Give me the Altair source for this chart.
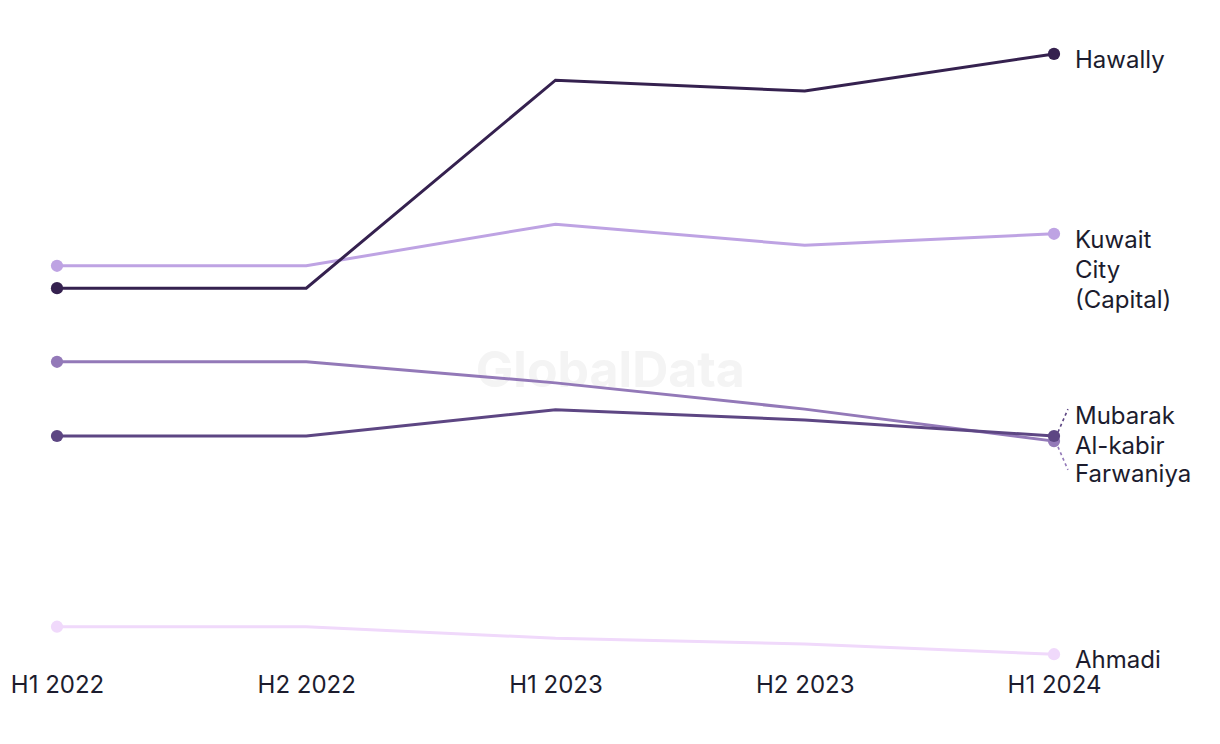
import altair as alt
import pandas as pd

periods = ["H1 2022", "H2 2022", "H1 2023", "H2 2023", "H1 2024"]
series = ["Ahmadi", "Kuwait City (Capital)", "Farwaniya", "Mubarak Al-kabir", "Hawally"]
values = {
    "Hawally": [58.1, 58.1, 90.6, 88.9, 94.7],
    "Kuwait City (Capital)": [61.6, 61.6, 68.1, 64.8, 66.6],
    "Farwaniya": [46.6, 46.6, 43.3, 39.2, 34.2],
    "Mubarak Al-kabir": [35.0, 35.0, 39.1, 37.5, 35.0],
    "Ahmadi": [5.2, 5.2, 3.4, 2.5, 0.9],
}
colors = {
    "Hawally": "#35214f",
    "Kuwait City (Capital)": "#bea3e3",
    "Farwaniya": "#9379b8",
    "Mubarak Al-kabir": "#5d4683",
    "Ahmadi": "#f0d9fb",
}
labels = {
    "Hawally": "Hawally",
    "Kuwait City (Capital)": "Kuwait\nCity\n(Capital)",
    "Farwaniya": "Farwaniya",
    "Mubarak Al-kabir": "Mubarak\nAl-kabir",
    "Ahmadi": "Ahmadi",
}
label_dy = {
    "Hawally": -5,
    "Kuwait City (Capital)": -5,
    "Farwaniya": 22,
    "Mubarak Al-kabir": -31,
    "Ahmadi": -5,
}
# leader lines (data units) for crowded labels
leaders = {
    "Mubarak Al-kabir": ([4.016, 4.056], [35.6, 39.2]),
    "Farwaniya": ([4.016, 4.056], [33.3, 29.7]),
}

FONT = "Inter"
TEXT = "#1c1c2e"

label_expr = "[" + ",".join(f"'{p}'" for p in periods) + "][datum.value]"
xscale = alt.Scale(domain=[0, 4], nice=False, zero=False)
yscale = alt.Scale(domain=[0, 100], nice=False, zero=False)
xaxis = alt.Axis(
    values=list(range(len(periods))),
    labelExpr=label_expr,
    domain=False,
    ticks=False,
    tickSize=0,
    grid=False,
    title=None,
    labelFont=FONT,
    labelFontSize=24,
    labelColor=TEXT,
    labelPadding=13,
    labelFlush=False,
    labelOverlap=False,
)


def X(field):
    return alt.X(field, scale=xscale, axis=xaxis)


def Y(field):
    return alt.Y(field, scale=yscale, axis=None)


layers = []

# watermark
wm = alt.Chart(pd.DataFrame({"x": [2.22], "y": [45], "t": ["GlobalData"]})).mark_text(
    font=FONT, fontSize=50, fontWeight="bold", color="#f4f4f4"
).encode(x=X("x:Q"), y=Y("y:Q"), text="t:N")
layers.append(wm)

for s in series:
    df = pd.DataFrame({"i": list(range(len(periods))), "v": values[s]})
    base = alt.Chart(df).encode(x=X("i:Q"), y=Y("v:Q"))
    line = base.mark_line(color=colors[s], strokeWidth=3)
    pts = base.mark_point(filled=True, color=colors[s], size=150, opacity=1).transform_filter(
        "datum.i == 0 || datum.i == 4"
    )
    layers += [line, pts]
    if s in leaders:
        lx, ly = leaders[s]
        ldf = pd.DataFrame({"x": lx, "y": ly})
        ll = alt.Chart(ldf).mark_line(color=colors[s], strokeWidth=1.6, strokeDash=[3, 3]).encode(
            x=X("x:Q"), y=Y("y:Q")
        )
        layers.append(ll)
    tdf = pd.DataFrame({"i": [4], "v": [values[s][-1]], "t": [labels[s]]})
    txt = alt.Chart(tdf).mark_text(
        align="left", baseline="top", dx=21, dy=label_dy[s], font=FONT, fontSize=24,
        color=TEXT, lineBreak="\n", lineHeight=30
    ).encode(x=X("i:Q"), y=Y("v:Q"), text="t:N")
    layers.append(txt)

chart = alt.layer(*layers).properties(
    width=997,
    height=640,
    padding={"left": 57, "top": 20, "right": 166, "bottom": 84},
    autosize=alt.AutoSizeParams(type="none"),
    background="white",
).configure_view(stroke=None)

chart.save("out.html", embed_options={"renderer": "svg", "actions": False})
